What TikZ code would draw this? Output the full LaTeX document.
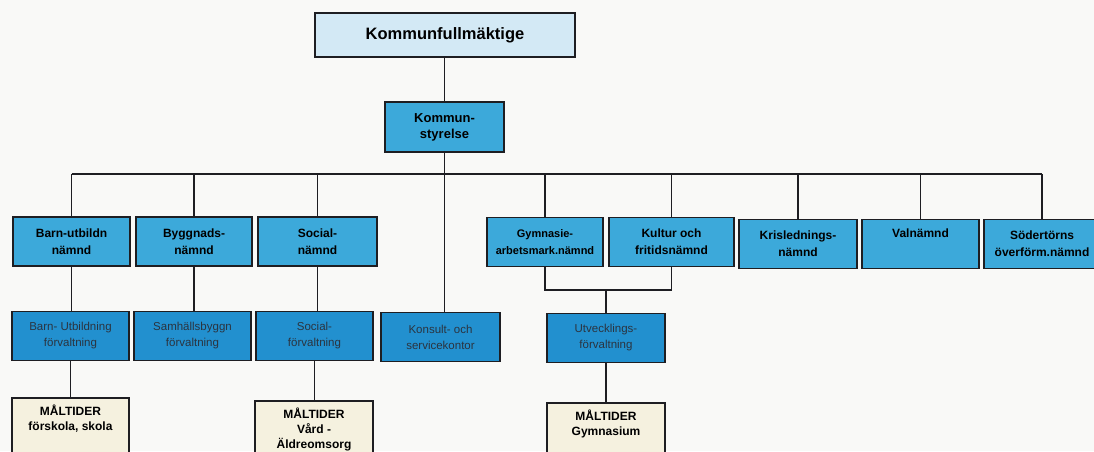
\documentclass[tikz,border=0pt]{standalone}
\usepackage{fontspec}
\setmainfont{Liberation Sans}
\definecolor{bgc}{HTML}{F9F9F7}
\definecolor{topc}{HTML}{D3E9F5}
\definecolor{midc}{HTML}{3CA9DA}
\definecolor{lowc}{HTML}{2290CF}
\definecolor{creamc}{HTML}{F5F1DF}
\definecolor{edgec}{HTML}{1E1E22}
\definecolor{lowtext}{HTML}{2B3440}
\begin{document}
\begin{tikzpicture}[x=1pt,y=-1pt,
  base/.style={draw=edgec, line width=1.8pt, inner sep=0pt, align=center, minimum height=49pt},
  topbox/.style={base, fill=topc, minimum width=260pt, minimum height=44pt, font=\bfseries\fontsize{16.5}{18}\selectfont},
  ksbox/.style={base, fill=midc, minimum width=119pt, minimum height=50pt, font=\bfseries\fontsize{13}{16}\selectfont},
  nbox/.style={base, fill=midc, font=\bfseries\fontsize{12}{17}\selectfont},
  fbox/.style={base, fill=lowc, text=lowtext, font=\fontsize{11.5}{16}\selectfont},
  mbox/.style={base, fill=creamc, minimum height=64pt},
  mtext/.style={inner sep=0pt, align=center, font=\bfseries\fontsize{12}{15}\selectfont},
  conn/.style={draw=edgec, line width=1.9pt}
]
\useasboundingbox (0,0) rectangle (1094,451);
\clip (0,0) rectangle (1094,451);
\fill[bgc] (0,0) rectangle (1094,451);

% top levels
\node[topbox] (kf) at (445,35) {Kommunfullmäktige};
\node[ksbox] (ks) at (444.5,127) {Kommun-\\styrelse};

% row 2
\node[nbox, minimum width=117pt] (bn) at (71.5,241.5) {Barn-utbildn\\nämnd};
\node[nbox, minimum width=116pt] (by) at (194,241.5) {Byggnads-\\nämnd};
\node[nbox, minimum width=119pt] (sn) at (317.5,241.5) {Social-\\nämnd};
\node[nbox, minimum width=116pt, font=\bfseries\fontsize{11}{17}\selectfont] (gy) at (545,242) {Gymnasie-\\arbetsmark.nämnd};
\node[nbox, minimum width=125pt] (ku) at (671.5,242) {Kultur och\\fritidsnämnd};
\node[nbox, minimum width=118pt] (kr) at (798,244) {Krislednings-\\nämnd};
\node[nbox, minimum width=117pt] (va) at (920.5,244) {Valnämnd\\\strut};
\node[nbox, minimum width=116pt] (sd) at (1042,244) {Södertörns\\överförm.nämnd};

% row 3
\node[fbox, minimum width=117pt] (bu) at (70.5,336) {Barn- Utbildning\\förvaltning};
\node[fbox, minimum width=117pt] (sb) at (192.5,336) {Samhällsbyggn\\förvaltning};
\node[fbox, minimum width=117pt] (sf) at (314.5,336) {Social-\\förvaltning};
\node[fbox, minimum width=119pt] (ko) at (440.5,337) {Konsult- och\\servicekontor};
\node[fbox, minimum width=118pt] (uv) at (606,338) {Utvecklings-\\förvaltning};

% row 4
\node[mbox, minimum width=117pt, anchor=north] (mf) at (70.5,397) {};
\node[mbox, minimum width=118pt, anchor=north] (mv) at (314,400) {};
\node[mbox, minimum width=118pt, anchor=north] (mg) at (606,402) {};
\node[mtext, anchor=north] (mft) at ([yshift=-8pt]mf.north) {MÅLTIDER\\förskola, skola};
\node[mtext, anchor=north] (mvt) at ([yshift=-8pt]mv.north) {MÅLTIDER\\Vård -\\Äldreomsorg};
\node[mtext, anchor=north] (mgt) at ([yshift=-8pt]mg.north) {MÅLTIDER\\Gymnasium};

% connectors
\coordinate (bar) at (0,174);
\coordinate (join) at (0,290);
\draw[conn] (ks.north) -- (ks.north |- kf.south);
\draw[conn] (ks.south) -- (ks.south |- ko.north);
\draw[conn] (bn.north |- bar) -- (sd.north |- bar);
\foreach \n in {bn,by,sn,gy,ku,kr,va,sd} \draw[conn] (\n.north) -- (\n.north |- bar);
\draw[conn] (bn.south) -- (bn.south |- bu.north);
\draw[conn] (by.south) -- (by.south |- sb.north);
\draw[conn] (sn.south) -- (sn.south |- sf.north);
\draw[conn] (gy.south) -- (gy.south |- join) -- (ku.south |- join) -- (ku.south);
\draw[conn] (uv.north) -- (uv.north |- join);
\draw[conn] (bu.south) -- (bu.south |- mf.north);
\draw[conn] (sf.south) -- (sf.south |- mv.north);
\draw[conn] (uv.south) -- (mg.north);
\end{tikzpicture}
\end{document}
